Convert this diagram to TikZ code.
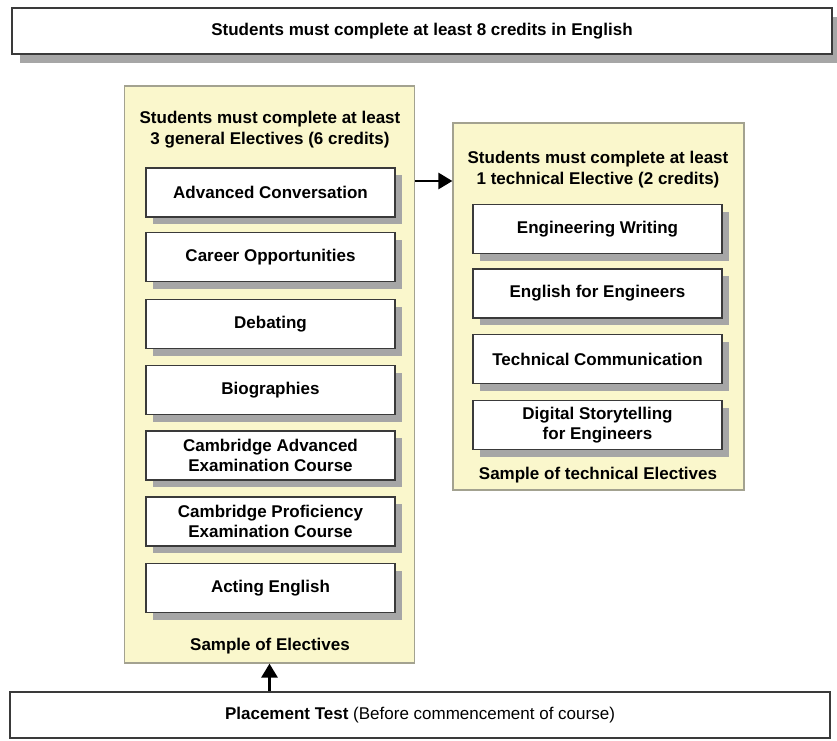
\documentclass[tikz,border=0pt]{standalone}
\usepackage{fontspec}
\setmainfont{Liberation Sans}
\usetikzlibrary{shadows,arrows.meta}
\definecolor{panelyellow}{HTML}{FAF7CC}
\definecolor{panelline}{HTML}{A3A290}
\definecolor{boxline}{HTML}{3A3A3A}
\definecolor{shadowgray}{HTML}{A6A6A6}
\begin{document}
\begin{tikzpicture}[x=1pt,y=-1pt,>={Triangle[length=14pt,width=16pt]},
        font=\fontsize{17}{20.5}\selectfont\bfseries,
        course/.style={draw=boxline,line width=1.6pt,fill=white,minimum width=249pt,minimum height=49pt,align=center,
            drop shadow={shadow xshift=7pt,shadow yshift=-7pt,fill=shadowgray,opacity=1}},
        panel/.style={draw=panelline,line width=1.2pt,fill=panelyellow,inner sep=0pt},
        banner/.style={draw=boxline,line width=1.4pt,fill=white,minimum width=820pt,minimum height=46pt}]
    \useasboundingbox (0,0) rectangle (837,740);
    \node[banner,drop shadow={shadow xshift=8pt,shadow yshift=-9pt,fill=shadowgray,opacity=1}] (credits) at (422,31) {Students must complete at least 8 credits in English};
    % general electives
    \node[panel,minimum width=290pt,minimum height=577pt] (general) at (269.5,374.5) {};
    \node[align=center] (gentitle) at (270,129.5) {Students must complete at least\\3 general Electives (6 credits)};
    \node[course] (conv) at (270.5,192.5) {Advanced Conversation};
    \node[course] (career) at (270.5,257) {Career Opportunities};
    \node[course] (debate) at (270.5,324) {Debating};
    \node[course] (bio) at (270.5,390) {Biographies};
    \node[course] (cae) at (270.5,455.5) {Cambridge Advanced\\Examination Course};
    \node[course] (cpe) at (270.5,521.5) {Cambridge Proficiency\\Examination Course};
    \node[course] (acting) at (270.5,588) {Acting English};
    \node (gensample) at (270,646.5) {Sample of Electives};
    % technical electives
    \node[panel,minimum width=291pt,minimum height=367pt] (tech) at (598.5,306.5) {};
    \node[align=center] (techtitle) at (598,169.5) {Students must complete at least\\1 technical Elective (2 credits)};
    \node[course] (writing) at (597.5,229) {Engineering Writing};
    \node[course] (engl) at (597.5,293.5) {English for Engineers};
    \node[course] (comm) at (597.5,359) {Technical Communication};
    \node[course] (story) at (597.5,425) {Digital Storytelling\\for Engineers};
    \node (techsample) at (598,475.5) {Sample of technical Electives};
    % placement
    \node[banner] (placement) at (420,715) {Placement Test {\mdseries (Before commencement of course)}};
    \coordinate (link) at (0,181);
    \draw[->,line width=2.8pt] (general.east|-link) -- (tech.west|-link);
    \draw[->,line width=2.8pt] (placement.north-|general.south) -- (general.south);
\end{tikzpicture}
\end{document}
